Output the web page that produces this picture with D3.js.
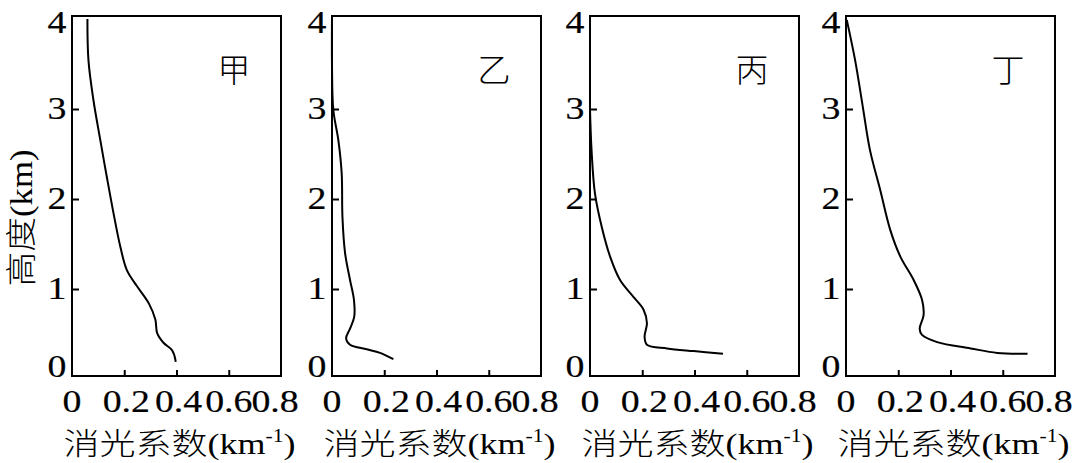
<!DOCTYPE html>
<html><head><meta charset="utf-8">
<script src="https://cdn.jsdelivr.net/npm/d3@7"></script>
<style>body{margin:0;background:#fff} svg{display:block}</style>
</head><body>
<svg id="c" width="1073" height="463"></svg>
<script>
// ---- data ----
const panelNames = ["甲", "乙", "丙", "丁"];
const xTicks = [0, 0.2, 0.4, 0.6, 0.8];
const xTickLabels = ["0", "0.2", "0.4", "0.6", "0.8"];
const yTicks = [0, 1, 2, 3, 4];
const yTickLabels = ["0", "1", "2", "3", "4"];
const xTitleCJK = "消光系数";
const xTitleUnit = "(km";
const xTitleSup = "-1";
const xTitleEnd = ")";
const yTitleCJK = "高度";
const yTitleUnit = "(km)";

// extinction coefficient (km^-1) vs height (km)
const jiaExt = [0.059, 0.063, 0.082, 0.108, 0.133, 0.159, 0.185, 0.21, 0.249, 0.294, 0.319, 0.326, 0.351, 0.383, 0.396, 0.396];
const jiaH   = [4.0, 3.54, 3.1, 2.66, 2.25, 1.84, 1.47, 1.21, 1.03, 0.84, 0.66, 0.51, 0.40, 0.32, 0.21, 0.19];
const yiExt  = [0.0, 0.0, 0.005, 0.024, 0.037, 0.04, 0.05, 0.069, 0.084, 0.085, 0.069, 0.054, 0.069, 0.133, 0.184, 0.235];
const yiH    = [4.0, 3.5, 2.99, 2.66, 2.29, 1.8, 1.40, 1.1, 0.88, 0.69, 0.56, 0.45, 0.38, 0.33, 0.29, 0.22];
const bingExt = [0.0, 0.006, 0.019, 0.045, 0.077, 0.115, 0.167, 0.205, 0.218, 0.209, 0.218, 0.295, 0.397, 0.509];
const bingH   = [2.99, 2.54, 2.06, 1.69, 1.36, 1.1, 0.91, 0.77, 0.62, 0.47, 0.38, 0.34, 0.31, 0.28];
const dingExt = [0.003, 0.035, 0.064, 0.092, 0.131, 0.169, 0.208, 0.259, 0.291, 0.297, 0.282, 0.291, 0.349, 0.477, 0.579, 0.695];
const dingH   = [3.99, 3.54, 3.03, 2.54, 2.1, 1.66, 1.36, 1.1, 0.88, 0.71, 0.56, 0.49, 0.41, 0.34, 0.29, 0.28];

const series = [[jiaExt, jiaH], [yiExt, yiH], [bingExt, bingH], [dingExt, dingH]];

// ---- layout ----
const svg = d3.select("#c");
const lefts = [72, 332, 590, 846];
const PW = 209, TOP = 16, BOT = 376;
const FONT = "'Liberation Serif','Times New Roman','Noto Sans CJK SC',serif";
const CJK = "'Noto Sans CJK SC','Noto Sans CJK JP',sans-serif";
const SX = 1.22;
const xLabelShift = {0: 0, 0.2: 2, 0.4: 2, 0.6: 0, 0.8: -6};

const y = d3.scaleLinear().domain([0, 4]).range([379, 19]);

function digits(sel) {
  sel.attr("text-anchor", "middle").attr("font-family", FONT).attr("font-size", 31)
    .attr("fill", "#000").attr("stroke", "#000").attr("stroke-width", 0.2);
}
function stretchTo(textSel, cx, cy, width, rot) {
  const w = textSel.node().getComputedTextLength();
  const s = width / w;
  textSel.attr("transform", `translate(${cx},${cy})${rot ? " rotate(-90)" : ""} scale(${s},1)`);
}

panelNames.forEach((name, i) => {
  const L = lefts[i];
  const x = d3.scaleLinear().domain([0, 0.8]).range([L, L + PW]);
  const g = svg.append("g");

  // ticks (inward)
  g.append("g").attr("transform", `translate(0,${BOT})`)
    .call(d3.axisBottom(x).tickValues(xTicks.slice(1, 4)).tickSize(-6).tickFormat(""))
    .call(a => a.select(".domain").remove())
    .call(a => a.selectAll("line").attr("stroke", "#000").attr("stroke-width", 2));
  g.append("g").attr("transform", `translate(${L},0)`)
    .call(d3.axisLeft(y).tickValues(yTicks.slice(1, 4)).tickSize(-7).tickFormat(""))
    .call(a => a.select(".domain").remove())
    .call(a => a.selectAll("line").attr("stroke", "#000").attr("stroke-width", 2));

  // frame
  g.append("rect").attr("x", L).attr("y", TOP).attr("width", PW).attr("height", BOT - TOP)
    .attr("fill", "none").attr("stroke", "#000").attr("stroke-width", 2);

  // curve
  const [ext, hs] = series[i];
  const pts = ext.map((v, k) => [v, hs[k]]);
  g.append("path").datum(pts)
    .attr("d", d3.line().x(d => x(d[0])).y(d => y(d[1])).curve(d3.curveCatmullRom.alpha(0.5)))
    .attr("fill", "none").attr("stroke", "#000").attr("stroke-width", 2);

  // x tick labels
  g.selectAll(".xl").data(xTicks).join("text")
    .attr("transform", d => `translate(${x(d) + xLabelShift[d]},412) scale(${SX},1)`)
    .call(digits)
    .text((d, k) => xTickLabels[k]);

  // y tick labels
  g.selectAll(".yl").data(yTicks).join("text")
    .attr("transform", d => `translate(${L - 15},${y(d) + (d === 0 ? -2 : (d === 4 ? 14 : 10))}) scale(${SX},1)`)
    .call(digits)
    .text((d, k) => yTickLabels[k]);

  // panel name
  g.append("text").attr("x", L + 162).attr("y", 82)
    .attr("text-anchor", "middle").attr("font-family", CJK).attr("font-size", 33)
    .attr("font-weight", 300)
    .text(name);

  // x title
  const t = g.append("text")
    .attr("text-anchor", "middle").attr("font-family", FONT).attr("font-size", 30);
  t.append("tspan").attr("font-family", CJK).attr("font-weight", 300).text(xTitleCJK);
  t.append("tspan").text(xTitleUnit);
  t.append("tspan").attr("font-size", 18).attr("dy", -12).text(xTitleSup);
  t.append("tspan").attr("dy", 12).text(xTitleEnd);
  stretchTo(t, L + PW / 2 + 3, 454, 232, false);
});

// y title
const yt = svg.append("text")
  .attr("text-anchor", "middle").attr("font-family", FONT).attr("font-size", 31);
yt.append("tspan").attr("font-family", CJK).attr("font-weight", 300).text(yTitleCJK);
yt.append("tspan").text(yTitleUnit);
stretchTo(yt, 32, 218, 137, true);
</script>
</body></html>
